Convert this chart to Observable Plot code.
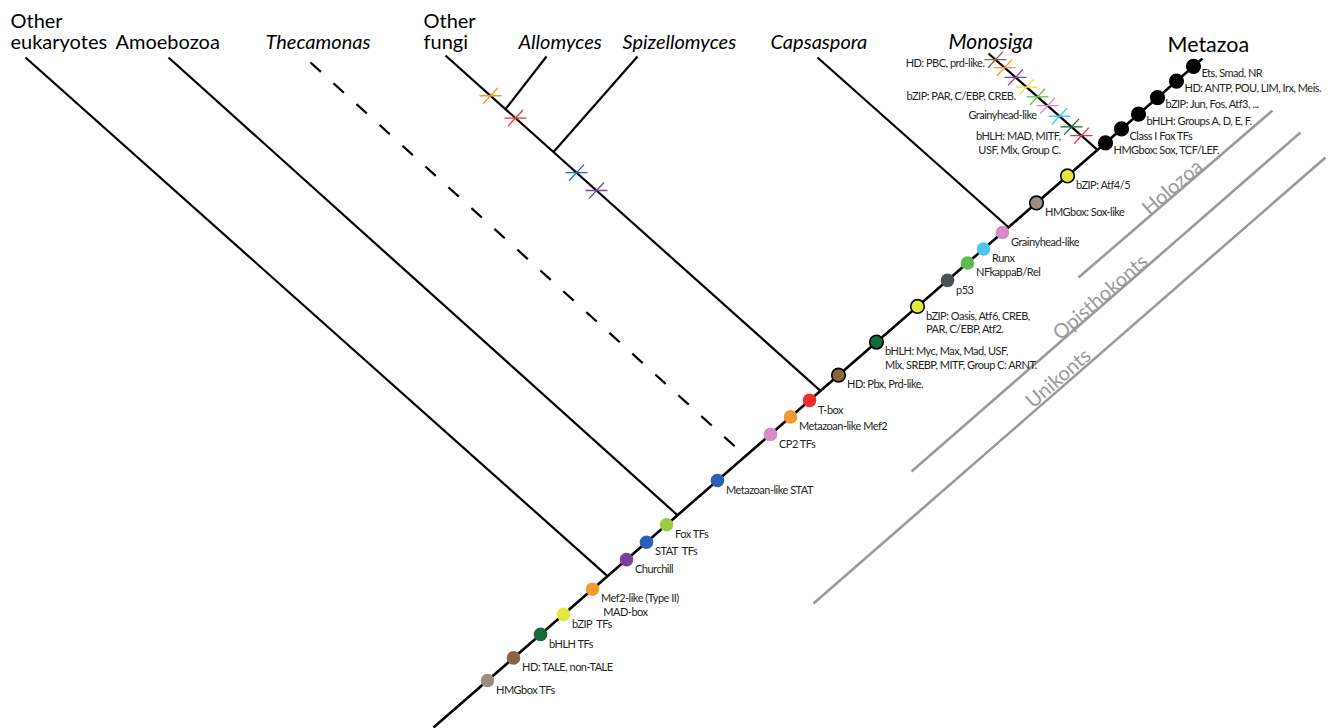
<!DOCTYPE html>
<html>
<head>
<meta charset="utf-8">
<script src="https://cdn.jsdelivr.net/npm/d3@7"></script>
<script src="https://cdn.jsdelivr.net/npm/@observablehq/plot@0.6"></script>
<style>
  body { margin: 0; background: #fff; }
  #chart svg { display: block; }
</style>
</head>
<body>
<div id="chart"></div>
<script>
// ---------------- DATA ----------------
// Clades at the tips of the tree
const cladeNames  = ["Other\neukaryotes", "Amoebozoa", "Thecamonas", "Other\nfungi", "Allomyces", "Spizellomyces", "Capsaspora", "Monosiga", "Metazoa"];
const cladeItalic = [false, false, true, false, true, true, true, true, false];
const cladeTipX   = [25, 168, 310, 445, 546, 637, 817, 988, 1202];
const cladeTipY   = [57, 57, 62, 55, 56, 56, 57, 53, 58];
const cladeLabelX = [10, 115, 265, 423, 518, 622, 770, 948, 1167];
// where each clade joins its parent: "stem" = main backbone, "fungi" = Other fungi branch
const cladeParent = ["stem", "stem", "stem", "stem", "fungi", "fungi", "stem", "stem", null];
const cladeJoinX  = [607, 677, 745, 820, 505, 553, 1008, 1097, null];
const cladeDashed = [false, false, true, false, false, false, false, false, false];

// Backbone (stem) end points
const stemStart = [433, 727];
const stemEnd   = [1202, 58];

// Gains mapped on the backbone
const gainLabels = [
  "HMGbox TFs", "HD: TALE, non-TALE", "bHLH TFs", "bZIP\u00a0\u00a0TFs", "Mef2-like (Type II)\n MAD-box",
  "Churchill", "STAT\u00a0\u00a0TFs", "Fox TFs", "Metazoan-like STAT", "CP2 TFs", "Metazoan-like Mef2",
  "T-box", "HD: Pbx, Prd-like.", "bHLH: Myc, Max, Mad, USF,\nMlx, SREBP, MITF, Group C: ARNT.",
  "bZIP: Oasis, Atf6, CREB,\nPAR, C/EBP, Atf2.", "p53", "NFkappaB/Rel", "Runx", "Grainyhead-like",
  "HMGbox: Sox-like", "bZIP: Atf4/5",
  "HMGbox: Sox, TCF/LEF.", "Class I Fox TFs", "bHLH: Groups A, D, E, F.", "bZIP: Jun, Fos, Atf3, ...",
  "HD: ANTP, POU, LIM, Irx, Meis.", "Ets, Smad, NR"
];
const gainX = [487, 513, 540, 563, 592, 626, 646, 666, 717, 770, 790, 809, 838, 876, 917, 947, 967, 983, 1002, 1036, 1067,
               1105, 1121, 1138, 1157, 1176, 1193];
const gainColors = ["#9d8e7f", "#8b6440", "#16693a", "#e5e83c", "#f39a2e", "#7b3f9d", "#2c60b8", "#9ccc45", "#2c60b8",
                    "#d98ac6", "#f39a2e", "#ee2f2f", "#8b6440", "#16693a", "#e5e83c", "#4b5152", "#5cbd4e", "#4ec4ee",
                    "#d98ac6", "#9d8e7f", "#e5e83c",
                    "#000", "#000", "#000", "#000", "#000", "#000"];
const gainOutlined = [false, false, false, false, false, false, false, false, false, false, false, false,
                      true, true, true, false, false, false, false, true, true,
                      true, true, true, true, true, true];
const gainMetazoa = gainX.map((_, i) => i >= 21);

// Losses (crosses)
const lossBranch = ["fungi", "fungi", "fungi", "fungi",
                    "monosiga", "monosiga", "monosiga", "monosiga", "monosiga", "monosiga", "monosiga", "monosiga", "monosiga"];
const lossX = [490, 515, 576, 596, 995, 1004, 1015, 1026, 1037, 1047, 1059, 1071, 1081];
const lossColors = ["#f39a2e", "#ee2f2f", "#2c60b8", "#7b3f9d",
                    "#8b6440", "#f39a2e", "#7b3f9d", "#e5e83c", "#5cbd4e", "#d98ac6", "#4ec4ee", "#16693a", "#ee2f2f"];
// Monosiga loss notes: text and the cross each sits beside
const lossNotes = ["HD: PBC, prd-like.", "bZIP: PAR, C/EBP, CREB.", "Grainyhead-like", "bHLH: MAD, MITF,\nUSF, Mlx, Group C."];
const lossNoteCross = [4, 7, 9, 11];

// Nested groups
const groupNames = ["Holozoa", "Opisthokonts", "Unikonts"];
const groupLineFrom = [[1078, 277], [911, 471], [813, 603]];
const groupLineTo   = [[1272, 110], [1300, 132], [1325, 157]];
const groupLabelAt  = [[1172, 187], [1100, 297], [1058, 378]];

// ---------------- GEOMETRY ----------------
const stemY = x => stemStart[1] + (stemEnd[1] - stemStart[1]) * (x - stemStart[0]) / (stemEnd[0] - stemStart[0]);
const fungiJoin = [cladeJoinX[3], stemY(cladeJoinX[3])];
const fungiY = x => cladeTipY[3] + (fungiJoin[1] - cladeTipY[3]) * (x - cladeTipX[3]) / (fungiJoin[0] - cladeTipX[3]);
const monoJoin = [cladeJoinX[7], stemY(cladeJoinX[7])];
const monoY = x => cladeTipY[7] + (monoJoin[1] - cladeTipY[7]) * (x - cladeTipX[7]) / (monoJoin[0] - cladeTipX[7]);

const branches = cladeNames.map((name, i) => {
  if (cladeParent[i] === null) return null;
  const jx = cladeJoinX[i];
  const jy = cladeParent[i] === "stem" ? stemY(jx) : fungiY(jx);
  return {name, x1: cladeTipX[i], y1: cladeTipY[i], x2: jx, y2: jy, dashed: cladeDashed[i]};
}).filter(d => d);
branches.push({name: "stem", x1: stemStart[0], y1: stemStart[1], x2: stemEnd[0], y2: stemEnd[1], dashed: false, stem: true});

const clades = cladeNames.map((name, i) => ({
  name, italic: cladeItalic[i], x: cladeLabelX[i],
  size: name === "Metazoa" ? 21.5 : (name === "Monosiga" ? 21 : 20),
  base: name === "Metazoa" ? 51.5 : 48.5
}));

const gains = gainLabels.map((label, i) => ({
  label, color: gainColors[i], outlined: gainOutlined[i], metazoa: gainMetazoa[i],
  x: gainX[i], y: stemY(gainX[i])
}));

const losses = lossX.map((x, i) => ({
  x, y: lossBranch[i] === "fungi" ? fungiY(x) : monoY(x), color: lossColors[i]
}));
const notes = lossNotes.map((t, i) => ({text: t, x: losses[lossNoteCross[i]].x, y: losses[lossNoteCross[i]].y, first: i === 0}));

const groups = groupNames.map((g, i) => ({
  name: g, x1: groupLineFrom[i][0], y1: groupLineFrom[i][1], x2: groupLineTo[i][0], y2: groupLineTo[i][1],
  lx: groupLabelAt[i][0], ly: groupLabelAt[i][1]
}));

// Cross symbol: horizontal bar + bar perpendicular to the branch
const crossSymbol = {
  draw(context, size) {
    const L = Math.sqrt(size / Math.PI);
    const a = 47 * Math.PI / 180;
    context.moveTo(-L, 0); context.lineTo(L, 0);
    context.moveTo(-L * Math.cos(a), L * Math.sin(a)); context.lineTo(L * Math.cos(a), -L * Math.sin(a));
  }
};

const FONT = "Lato, 'Open Sans', sans-serif";
const SMALL = 11;
const small = {fontSize: SMALL, lineHeight: 1.24, fill: "#231f20", fontFamily: FONT};

const chart = Plot.plot({
  width: 1331, height: 728, margin: 0,
  x: {domain: [0, 1331], range: [0, 1331], axis: null},
  y: {domain: [0, 728], range: [0, 728], axis: null},
  style: {background: "#fff", fontFamily: FONT},
  marks: [
    // group brackets
    Plot.link(groups, {x1: "x1", y1: "y1", x2: "x2", y2: "y2", stroke: "#9a9a9a", strokeWidth: 2.6}),
    Plot.text(groups, {x: "lx", y: "ly", text: "name", rotate: -41, fill: "#9a9a9a", fontSize: 20, fontFamily: FONT}),
    // branches
    Plot.link(branches.filter(d => !d.dashed && !d.stem), {x1: "x1", y1: "y1", x2: "x2", y2: "y2", stroke: "#000", strokeWidth: 2.2}),
    Plot.link(branches.filter(d => d.dashed), {x1: "x1", y1: "y1", x2: "x2", y2: "y2", stroke: "#000", strokeWidth: 2.2, strokeDasharray: "14,17"}),
    Plot.link(branches.filter(d => d.stem), {x1: "x1", y1: "y1", x2: "x2", y2: "y2", stroke: "#000", strokeWidth: 2.6}),
    // losses
    Plot.dot(losses, {x: "x", y: "y", r: 11, symbol: crossSymbol, stroke: "color", fill: "none", strokeWidth: 1.3}),
    // gains
    Plot.dot(gains.filter(d => !d.outlined), {x: "x", y: "y", r: 6.8, fill: "color", stroke: "none"}),
    Plot.dot(gains.filter(d => d.outlined), {x: "x", y: "y", r: 6.8, fill: "color", stroke: "#000", strokeWidth: 1.6}),
    // gain labels
    Plot.text(gains.filter(d => !d.metazoa), {x: "x", y: "y", text: "label", textAnchor: "start", lineAnchor: "top",
      dx: 8.5, dy: 3.5, ...small}),
    Plot.text(gains.filter(d => d.metazoa), {x: "x", y: "y", text: "label", textAnchor: "start", lineAnchor: "top",
      dx: 8, dy: 1, ...small}),
    // Monosiga loss notes
    Plot.text(notes.filter(d => d.first), {x: "x", y: "y", text: "text", textAnchor: "end", lineAnchor: "top",
      dx: -11, dy: -2.5, ...small}),
    Plot.text(notes.filter(d => !d.first), {x: "x", y: "y", text: "text", textAnchor: "end", lineAnchor: "top",
      dx: -11, dy: 3.5, ...small}),
    // clade names
    Plot.text(clades.filter(d => !d.italic), {x: "x", y: "base", text: "name", textAnchor: "start", lineAnchor: "bottom",
      fontSize: d => d.size, lineHeight: 1.03, fill: "#000", fontFamily: FONT}),
    Plot.text(clades.filter(d => d.italic), {x: "x", y: "base", text: "name", textAnchor: "start", lineAnchor: "bottom",
      fontSize: d => d.size, lineHeight: 1.0, fill: "#000", fontFamily: FONT, fontStyle: "italic"})
  ]
});
// condensed look of the small annotation labels (Myriad-like narrow setting)
d3.select(chart).selectAll("g").each(function () {
  if (+this.getAttribute("font-size") === SMALL) {
    this.setAttribute("letter-spacing", "-0.5");
    this.style.letterSpacing = "-0.5px";
  }
});
document.getElementById("chart").appendChild(chart);
</script>
</body>
</html>
